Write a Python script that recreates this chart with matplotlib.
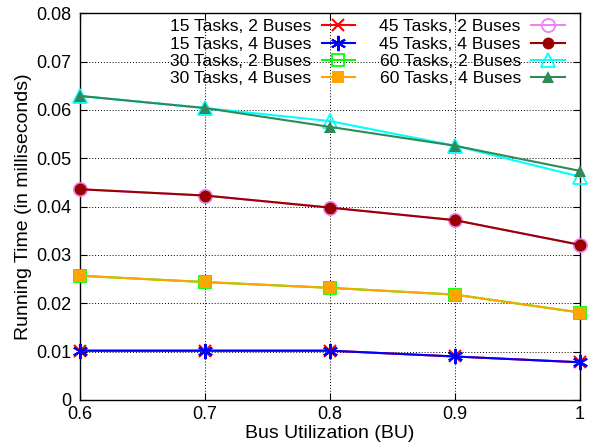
import matplotlib
matplotlib.use("Agg")
import matplotlib.pyplot as plt
from matplotlib.ticker import FuncFormatter

bu = [0.6, 0.7, 0.8, 0.9, 1.0]
t15_2 = [0.0102, 0.0102, 0.0102, 0.0090, 0.0078]
t15_4 = [0.0102, 0.0102, 0.0102, 0.0090, 0.0078]
t30_2 = [0.0257, 0.0244, 0.0232, 0.0218, 0.0181]
t30_4 = [0.0257, 0.0244, 0.0232, 0.0218, 0.0181]
t45_2 = [0.0436, 0.0423, 0.0398, 0.0372, 0.0321]
t45_4 = [0.0436, 0.0423, 0.0398, 0.0372, 0.0321]
t60_2 = [0.0629, 0.0604, 0.0577, 0.0526, 0.0462]
t60_4 = [0.0629, 0.0604, 0.0565, 0.0526, 0.0474]

labels = ["15 Tasks, 2 Buses", "15 Tasks, 4 Buses", "30 Tasks, 2 Buses", "30 Tasks, 4 Buses",
          "45 Tasks, 2 Buses", "45 Tasks, 4 Buses", "60 Tasks, 2 Buses", "60 Tasks, 4 Buses"]
xticks = [0.6, 0.7, 0.8, 0.9, 1.0]
yticks = [0, 0.01, 0.02, 0.03, 0.04, 0.05, 0.06, 0.07, 0.08]

plt.rcParams['font.family'] = ['Liberation Sans', 'DejaVu Sans']

fig = plt.figure(figsize=(5.98, 4.45), dpi=100)
ax = fig.add_axes([80/598, 45/445, 500/598, (400-13.3)/445])

series = [
    (t15_2, '#ff0000', dict(marker='x', markersize=9, markeredgewidth=1.5, markerfacecolor='none')),
    (t15_4, '#0000ff', dict(marker=(6, 2, 0), markersize=11, markeredgewidth=1.5)),
    (t30_2, '#00ff00', dict(marker='s', markersize=9, markeredgewidth=1.3, markerfacecolor='none')),
    (t30_4, '#ffa500', dict(marker='s', markersize=8.5, markeredgewidth=0)),
    (t45_2, '#ee82ee', dict(marker='o', markersize=9.5, markeredgewidth=1.3, markerfacecolor='none')),
    (t45_4, '#990000', dict(marker='o', markersize=8.5, markeredgewidth=0)),
    (t60_2, '#00ffff', dict(marker='^', markersize=9.5, markeredgewidth=1.3, markerfacecolor='none')),
    (t60_4, '#2e8b57', dict(marker='^', markersize=8.5, markeredgewidth=0)),
]
handles = []
for (ys, c, kw), lab in zip(series, labels):
    h, = ax.plot(bu, ys, color=c, lw=1.5, label=lab, clip_on=False, zorder=3, **kw)
    handles.append(h)

ax.set_xlim(0.6, 1.0)
ax.set_ylim(0, 0.08)
ax.set_xticks(xticks)
ax.set_yticks(yticks)
ax.xaxis.set_major_formatter(FuncFormatter(lambda v, p: "1" if abs(v-1) < 1e-9 else f"{v:.1f}"))
ax.yaxis.set_major_formatter(FuncFormatter(lambda v, p: "0" if abs(v) < 1e-12 else f"{v:.2f}"))
ax.tick_params(direction='in', top=True, right=True, length=5, width=0.8, labelsize=13)
ax.tick_params(axis='y', pad=6)
ax.tick_params(axis='x', pad=4)
ax.grid(True, color='black', linestyle=(0, (1, 2)), linewidth=0.7)
for s in ax.spines.values():
    s.set_linewidth(1.0)

ax.set_xlabel("Bus Utilization (BU)", fontsize=14, labelpad=2)
ax.set_ylabel("Running Time (in milliseconds)", fontsize=14, labelpad=3)

leg = ax.legend(handles=handles, ncol=2, markerfirst=False, frameon=False, fontsize=12.6,
                loc='upper right', bbox_to_anchor=(0.99, 1.012), handlelength=1.9,
                handletextpad=0.6, columnspacing=1.4, labelspacing=0.12, borderaxespad=0.2)

fig.savefig("out.png", dpi=100)
